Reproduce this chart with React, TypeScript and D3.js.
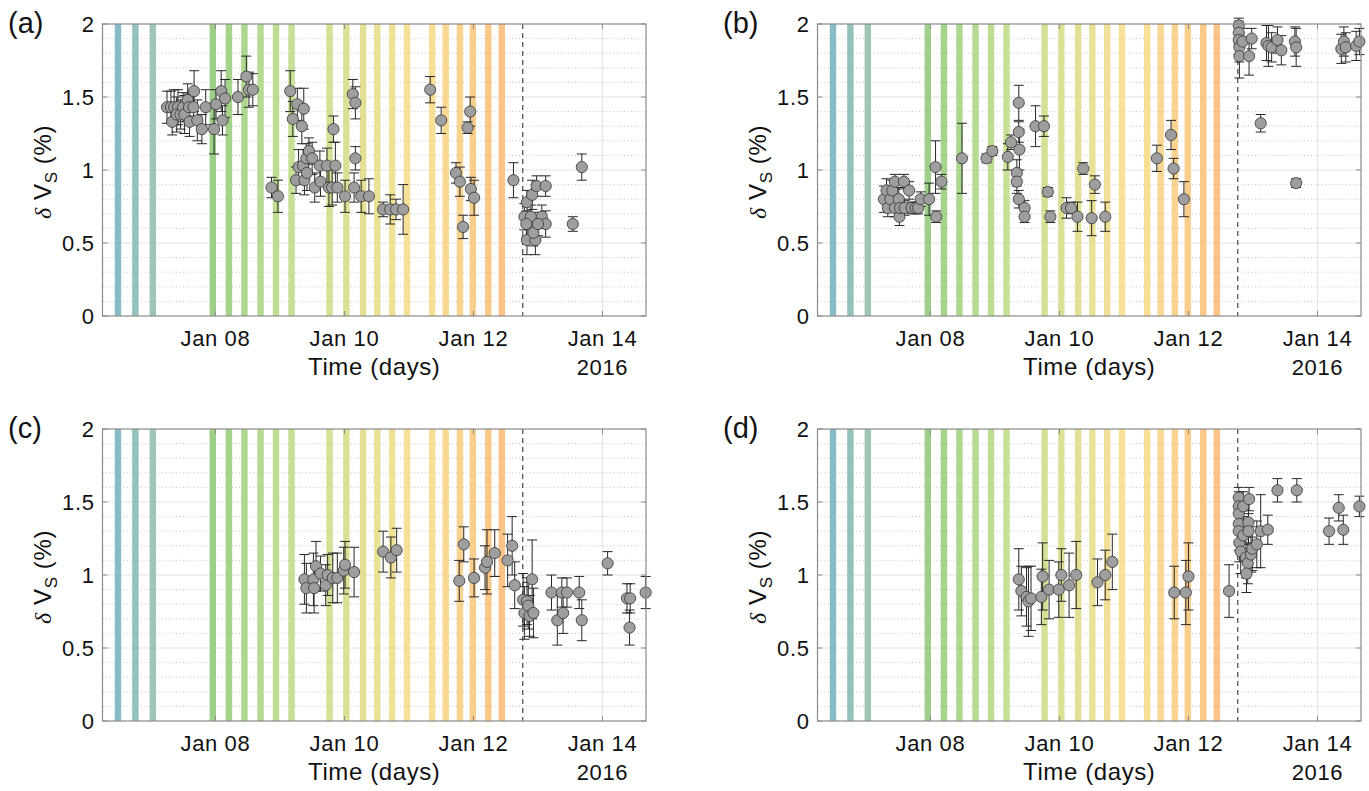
import React, { useEffect, useRef } from 'react';
import * as d3 from 'd3';

// x values are fractional days of January 2016
const xDomainDays = [6.25, 14.675];
const xTickDays = [8, 10, 12, 14];
const yTicks = [0, 0.5, 1, 1.5, 2];
const mainshockDay = 12.765;
const panelLabels = ['(a)', '(b)', '(c)', '(d)'];

// coloured swarm windows
const windowDays = [6.49, 6.76, 7.03, 7.96, 8.21, 8.45, 8.7, 8.94, 9.18, 9.77, 10.03, 10.29, 10.51, 10.74, 10.97, 11.36, 11.57, 11.79, 11.99, 12.23, 12.44];
const windowColorDays = [6.49, 7.03, 7.96, 9.18, 9.77, 10.97, 11.36, 12.44];
const windowColors = ['#7ab5c1', '#95c0aa', '#92ca7e', '#c0dd89', '#d0dd88', '#f5de8c', '#f8da8b', '#f9bd7a'];

// panel (a)
const aDay = [7.25, 7.31, 7.36, 7.42, 7.33, 7.4, 7.46, 7.5, 7.52, 7.57, 7.59, 7.6, 7.66, 7.67, 7.72, 7.79, 7.85, 7.98, 8.01, 8.09, 8.11, 8.15, 8.35, 8.48, 8.52, 8.58, 8.87, 8.97, 9.16, 9.2, 9.27, 9.34, 9.37, 9.25, 9.29, 9.36, 9.38, 9.41, 9.42, 9.45, 9.5, 9.54, 9.62, 9.63, 9.73, 9.76, 9.81, 9.83, 9.86, 9.89, 10.01, 10.13, 10.17, 10.17, 10.15, 10.26, 10.38, 10.6, 10.71, 10.8, 10.91, 11.33, 11.5, 11.73, 11.79, 11.84, 11.91, 11.95, 11.96, 12.01, 12.62, 12.79, 12.83, 12.91, 12.89, 12.82, 12.83, 12.96, 12.93, 12.98, 13.12, 13.06, 13.12, 13.0, 13.54, 13.68];
const aDvs = [1.43, 1.43, 1.43, 1.43, 1.33, 1.38, 1.38, 1.43, 1.38, 1.48, 1.43, 1.33, 1.43, 1.54, 1.34, 1.28, 1.43, 1.28, 1.45, 1.54, 1.34, 1.49, 1.5, 1.64, 1.55, 1.55, 0.88, 0.82, 1.54, 1.35, 1.45, 1.3, 1.42, 0.93, 1.02, 1.03, 0.93, 1.08, 0.98, 1.13, 1.08, 0.88, 1.03, 0.92, 1.03, 0.88, 0.88, 1.28, 1.03, 0.88, 0.82, 1.52, 1.46, 1.08, 0.88, 0.82, 0.82, 0.73, 0.73, 0.73, 0.73, 1.55, 1.34, 0.98, 0.92, 0.61, 1.29, 1.4, 0.87, 0.81, 0.93, 0.68, 0.78, 0.83, 0.68, 0.63, 0.52, 0.52, 0.57, 0.89, 0.89, 0.68, 0.63, 0.63, 0.63, 1.02];
const aErr = [0.11, 0.11, 0.12, 0.12, 0.09, 0.12, 0.1, 0.1, 0.13, 0.11, 0.09, 0.1, 0.1, 0.14, 0.14, 0.1, 0.12, 0.17, 0.1, 0.14, 0.1, 0.13, 0.12, 0.14, 0.12, 0.11, 0.07, 0.11, 0.14, 0.12, 0.11, 0.12, 0.14, 0.09, 0.12, 0.11, 0.1, 0.1, 0.12, 0.09, 0.11, 0.1, 0.1, 0.1, 0.12, 0.13, 0.12, 0.09, 0.16, 0.1, 0.11, 0.1, 0.11, 0.08, 0.1, 0.11, 0.12, 0.05, 0.1, 0.07, 0.17, 0.09, 0.09, 0.07, 0.1, 0.08, 0.04, 0.1, 0.08, 0.12, 0.12, 0.09, 0.08, 0.1, 0.08, 0.09, 0.1, 0.1, 0.09, 0.07, 0.07, 0.08, 0.09, 0.08, 0.05, 0.09];

// panel (b)
const bDay = [7.28, 7.32, 7.34, 7.38, 7.41, 7.45, 7.45, 7.51, 7.52, 7.53, 7.59, 7.6, 7.67, 7.71, 7.77, 7.81, 7.85, 7.98, 8.08, 8.09, 8.17, 8.49, 8.87, 8.96, 9.2, 9.25, 9.37, 9.37, 9.38, 9.34, 9.34, 9.37, 9.46, 9.46, 9.63, 9.76, 9.82, 9.86, 10.11, 10.18, 10.28, 10.37, 10.5, 10.55, 10.71, 11.51, 11.73, 11.77, 11.93, 12.78, 12.78, 12.78, 12.79, 12.79, 12.84, 12.94, 12.98, 13.21, 13.24, 13.29, 13.38, 13.44, 13.65, 13.67, 13.12, 13.67, 14.37, 14.41, 14.44, 14.6, 14.65];
const bDvs = [0.8, 0.86, 0.74, 0.8, 0.86, 0.92, 0.74, 0.8, 0.68, 0.74, 0.92, 0.74, 0.86, 0.74, 0.74, 0.74, 0.8, 0.8, 1.02, 0.68, 0.92, 1.08, 1.08, 1.13, 1.09, 1.19, 1.46, 1.26, 1.14, 0.98, 0.92, 0.8, 0.74, 0.68, 1.3, 1.3, 0.85, 0.68, 0.74, 0.74, 0.68, 1.01, 0.67, 0.9, 0.68, 1.08, 1.24, 1.01, 0.8, 1.99, 1.94, 1.89, 1.84, 1.78, 1.88, 1.78, 1.9, 1.87, 1.85, 1.84, 1.89, 1.82, 1.88, 1.84, 1.32, 0.91, 1.83, 1.88, 1.84, 1.85, 1.88];
const bErr = [0.09, 0.08, 0.06, 0.08, 0.07, 0.05, 0.06, 0.08, 0.06, 0.06, 0.05, 0.05, 0.06, 0.04, 0.04, 0.04, 0.05, 0.11, 0.18, 0.04, 0.05, 0.24, 0.03, 0.03, 0.09, 0.05, 0.12, 0.07, 0.14, 0.09, 0.08, 0.06, 0.05, 0.04, 0.14, 0.07, 0.03, 0.04, 0.07, 0.04, 0.1, 0.04, 0.12, 0.06, 0.1, 0.09, 0.1, 0.07, 0.12, 0.05, 0.08, 0.1, 0.1, 0.15, 0.09, 0.13, 0.07, 0.12, 0.14, 0.1, 0.09, 0.1, 0.1, 0.13, 0.06, 0.03, 0.1, 0.1, 0.1, 0.1, 0.09];

// panel (c)
const cDay = [9.38, 9.41, 9.52, 9.53, 9.56, 9.63, 9.71, 9.74, 9.82, 9.89, 9.99, 10.01, 10.15, 10.6, 10.72, 10.81, 11.78, 11.85, 12.01, 12.18, 12.21, 12.33, 12.53, 12.6, 12.64, 12.77, 12.79, 12.83, 12.85, 12.87, 12.91, 12.93, 13.21, 13.3, 13.37, 13.39, 13.45, 13.64, 13.68, 14.08, 14.38, 14.43, 14.42, 14.67];
const cDvs = [0.97, 0.91, 0.97, 0.91, 1.06, 1.01, 0.93, 1.0, 0.98, 0.98, 1.03, 1.07, 1.02, 1.16, 1.12, 1.17, 0.96, 1.21, 0.98, 1.05, 1.09, 1.15, 1.1, 1.2, 0.93, 0.83, 0.74, 0.82, 0.79, 0.72, 0.97, 0.74, 0.88, 0.69, 0.88, 0.74, 0.88, 0.88, 0.69, 1.08, 0.84, 0.84, 0.64, 0.88];
const cErr = [0.17, 0.17, 0.18, 0.17, 0.17, 0.12, 0.14, 0.14, 0.17, 0.17, 0.16, 0.16, 0.17, 0.14, 0.14, 0.15, 0.14, 0.12, 0.13, 0.15, 0.22, 0.16, 0.18, 0.2, 0.16, 0.18, 0.18, 0.16, 0.16, 0.14, 0.27, 0.17, 0.12, 0.17, 0.1, 0.14, 0.1, 0.11, 0.14, 0.08, 0.1, 0.1, 0.12, 0.11];

// panel (d)
const dDay = [9.37, 9.41, 9.49, 9.52, 9.56, 9.72, 9.74, 9.84, 9.99, 10.03, 10.15, 10.26, 10.59, 10.71, 10.82, 11.78, 11.96, 12.0, 12.63, 12.78, 12.78, 12.78, 12.78, 12.78, 12.79, 12.81, 12.85, 12.85, 12.89, 12.92, 12.9, 12.94, 12.93, 12.93, 12.97, 12.99, 13.06, 13.12, 13.23, 13.38, 13.68, 14.18, 14.33, 14.4, 14.65];
const dDvs = [0.97, 0.89, 0.85, 0.82, 0.84, 0.85, 0.99, 0.9, 0.9, 1.0, 0.93, 1.0, 0.95, 1.0, 1.09, 0.88, 0.88, 0.99, 0.89, 1.53, 1.47, 1.42, 1.35, 1.3, 1.22, 1.16, 1.47, 1.27, 1.12, 1.08, 1.01, 1.52, 1.36, 1.3, 1.14, 1.18, 1.21, 1.3, 1.31, 1.58, 1.58, 1.3, 1.46, 1.31, 1.47];
const dErr = [0.21, 0.17, 0.2, 0.24, 0.22, 0.19, 0.23, 0.2, 0.19, 0.18, 0.22, 0.23, 0.16, 0.17, 0.19, 0.18, 0.22, 0.23, 0.18, 0.07, 0.1, 0.12, 0.12, 0.13, 0.13, 0.15, 0.1, 0.13, 0.14, 0.14, 0.13, 0.08, 0.15, 0.12, 0.12, 0.15, 0.16, 0.25, 0.1, 0.08, 0.08, 0.09, 0.09, 0.1, 0.07];

const panels = [
  { day: aDay, dvs: aDvs, err: aErr },
  { day: bDay, dvs: bDvs, err: bErr },
  { day: cDay, dvs: cDvs, err: cErr },
  { day: dDay, dvs: dDvs, err: dErr },
];

// layout
const W = 543.5;
const H = 292;
const origins = [[102.5, 24], [817.5, 24], [102.5, 429], [817.5, 429]];
const font = '"Liberation Sans", Arial, Helvetica, sans-serif';
const axisGray = '#8a8a8a';
const tickFont = 22;

const dayToDate = (d: number) => new Date(Date.UTC(2016, 0, 1) + (d - 1) * 864e5);

function drawPanel(svg: any, p: any, idx: number) {
  const [ox, oy] = origins[idx];
  const g = svg.append('g').attr('transform', `translate(${ox},${oy})`);

  const x = d3.scaleUtc().domain(xDomainDays.map(dayToDate)).range([0, W]);
  const y = d3.scaleLinear().domain([0, 2]).range([H, 0]);
  const windowColor = d3.scaleLinear<string>().domain(windowColorDays).range(windowColors).interpolate(d3.interpolateRgb);

  g.append('rect').attr('width', W).attr('height', H).attr('fill', '#fff');

  // minor dotted grid
  const minor = d3.range(1, 20).map(v => v / 10).filter(v => Math.abs(v * 2 - Math.round(v * 2)) > 1e-6);
  g.selectAll('.minor').data(minor).enter().append('line')
    .attr('x1', 0).attr('x2', W).attr('y1', d => y(d)).attr('y2', d => y(d))
    .attr('stroke', '#c4c4c4').attr('stroke-width', 1).attr('stroke-dasharray', '1,2.5');

  // major grid
  g.selectAll('.hgrid').data(yTicks.slice(1, -1)).enter().append('line')
    .attr('x1', 0).attr('x2', W).attr('y1', d => y(d)).attr('y2', d => y(d))
    .attr('stroke', '#e2e2e2').attr('stroke-width', 1);
  g.selectAll('.vgrid').data(xTickDays).enter().append('line')
    .attr('x1', d => x(dayToDate(d))).attr('x2', d => x(dayToDate(d))).attr('y1', 0).attr('y2', H)
    .attr('stroke', '#e2e2e2').attr('stroke-width', 1);

  // swarm windows
  const barW = x(dayToDate(6.35)) - x(dayToDate(6.25));
  g.selectAll('.win').data(windowDays).enter().append('rect')
    .attr('x', d => x(dayToDate(d)) - barW / 2).attr('y', 0).attr('width', barW).attr('height', H)
    .attr('fill', d => windowColor(d)).attr('opacity', 0.9);

  // mainshock
  g.append('line')
    .attr('x1', x(dayToDate(mainshockDay))).attr('x2', x(dayToDate(mainshockDay)))
    .attr('y1', 0).attr('y2', H)
    .attr('stroke', '#222').attr('stroke-width', 1).attr('stroke-dasharray', '5,4');

  const pts = p.day.map((d: number, i: number) => ({ t: dayToDate(d), v: p.dvs[i], e: p.err[i] }));
  const cap = 5;

  const eb = g.selectAll('.eb').data(pts).enter().append('g').attr('stroke', '#262626').attr('stroke-width', 1);
  eb.append('line').attr('x1', (d: any) => x(d.t)).attr('x2', (d: any) => x(d.t))
    .attr('y1', (d: any) => y(d.v - d.e)).attr('y2', (d: any) => y(d.v + d.e));
  eb.append('line').attr('x1', (d: any) => x(d.t) - cap).attr('x2', (d: any) => x(d.t) + cap)
    .attr('y1', (d: any) => y(d.v - d.e)).attr('y2', (d: any) => y(d.v - d.e));
  eb.append('line').attr('x1', (d: any) => x(d.t) - cap).attr('x2', (d: any) => x(d.t) + cap)
    .attr('y1', (d: any) => y(d.v + d.e)).attr('y2', (d: any) => y(d.v + d.e));

  g.selectAll('.pt').data(pts).enter().append('circle')
    .attr('cx', (d: any) => x(d.t)).attr('cy', (d: any) => y(d.v)).attr('r', 5.6)
    .attr('fill', '#9e9e9e').attr('stroke', '#333').attr('stroke-width', 0.8);

  // box and inward ticks
  g.append('rect').attr('width', W).attr('height', H).attr('fill', 'none')
    .attr('stroke', axisGray).attr('stroke-width', 1.2);
  const tl = 5;
  yTicks.forEach(v => {
    g.append('line').attr('x1', 0).attr('x2', tl).attr('y1', y(v)).attr('y2', y(v)).attr('stroke', axisGray);
    g.append('line').attr('x1', W - tl).attr('x2', W).attr('y1', y(v)).attr('y2', y(v)).attr('stroke', axisGray);
  });
  xTickDays.forEach(d => {
    const xx = x(dayToDate(d));
    g.append('line').attr('x1', xx).attr('x2', xx).attr('y1', H).attr('y2', H - tl).attr('stroke', axisGray);
    g.append('line').attr('x1', xx).attr('x2', xx).attr('y1', 0).attr('y2', tl).attr('stroke', axisGray);
  });

  const fmtDate = d3.utcFormat('%b %d');
  const txt = (sel: any, size: number) => sel.attr('font-family', font).attr('font-size', size)
    .attr('letter-spacing', 0.6).attr('fill', '#111');

  txt(g.selectAll('.yl').data(yTicks).enter().append('text')
    .attr('x', -8).attr('y', d => y(d)).attr('dy', '0.36em')
    .attr('text-anchor', 'end'), tickFont)
    .text((d: number) => String(d));
  txt(g.selectAll('.xl').data(xTickDays).enter().append('text')
    .attr('x', d => x(dayToDate(d))).attr('y', H + 30)
    .attr('text-anchor', 'middle'), tickFont)
    .text((d: number) => fmtDate(dayToDate(d)));
  txt(g.append('text')
    .attr('x', x(dayToDate(xTickDays[xTickDays.length - 1]))).attr('y', H + 59)
    .attr('text-anchor', 'middle'), tickFont)
    .text('2016');
  txt(g.append('text')
    .attr('x', W / 2).attr('y', H + 59)
    .attr('text-anchor', 'middle'), 24)
    .text('Time (days)');

  // y label
  const yl = txt(g.append('text')
    .attr('transform', `translate(-52,${H / 2 + 2}) rotate(-90)`)
    .attr('text-anchor', 'middle'), 24);
  yl.append('tspan').attr('font-family', '"Liberation Serif", serif').attr('font-style', 'italic').text('δ');
  yl.append('tspan').text(' V');
  yl.append('tspan').attr('font-size', 17).attr('dy', 6).text('S');
  yl.append('tspan').attr('dy', -6).text(' (%)');

  txt(g.append('text')
    .attr('x', -94.5).attr('y', 9), 29)
    .attr('letter-spacing', 0)
    .text(panelLabels[idx]);
}

export default function App() {
  const ref = useRef<SVGSVGElement>(null);

  useEffect(() => {
    const svg = d3.select(ref.current);
    svg.selectAll('*').remove();
    panels.forEach((p, i) => drawPanel(svg, p, i));
  }, []);

  return (
    <div style={{ position: 'absolute', left: 0, top: 0 }}>
      <svg ref={ref} width={1369} height={791} style={{ display: 'block', background: '#fff' }} />
    </div>
  );
}
